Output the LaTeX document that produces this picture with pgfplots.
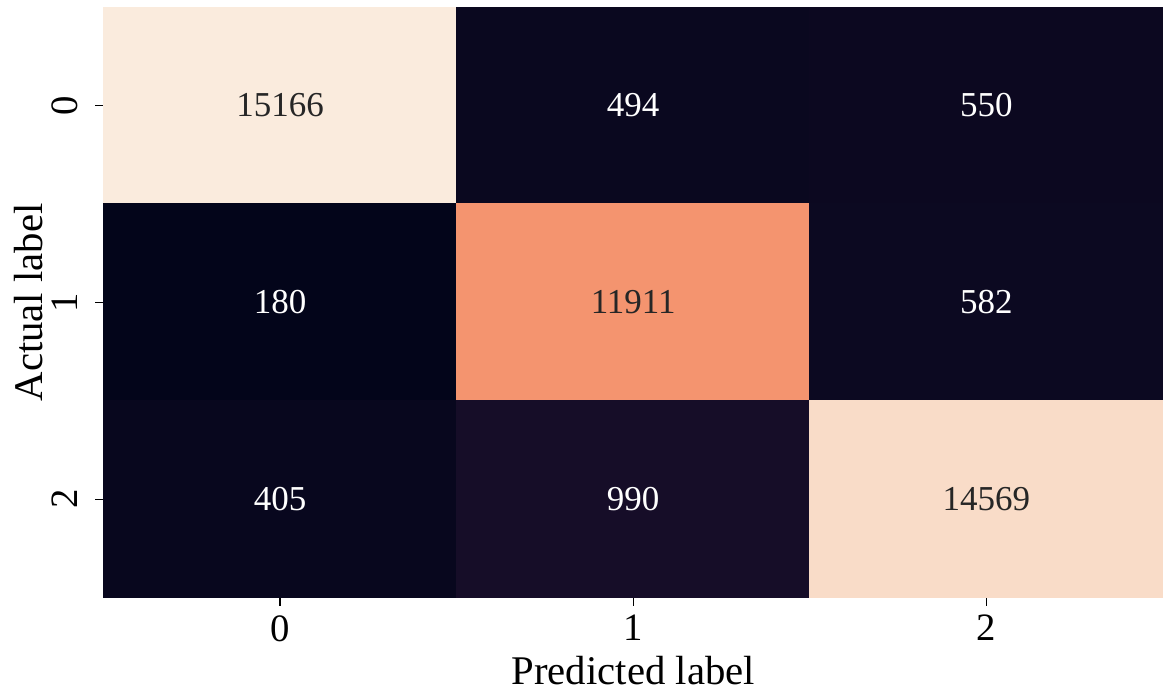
\documentclass[border=0pt]{standalone}
\usepackage{pgfplots}
\pgfplotsset{compat=1.18}
\usepackage{pgfplotstable}
\usepackage{fontspec}
\setmainfont{Liberation Serif}
\usetikzlibrary{calc}

% confusion matrix: x = predicted, y = actual, c = count
\pgfplotstableread{
x y c
0 0 15166
1 0 494
2 0 550
0 1 180
1 1 11911
2 1 582
0 2 405
1 2 990
2 2 14569
}\cm

% annotations on light cells (dark text) and dark cells (white text)
\pgfplotstableread{
x y c
0 0 15166
1 1 11911
2 2 14569
}\cmlight
\pgfplotstableread{
x y c
1 0 494
2 0 550
0 1 180
2 1 582
0 2 405
1 2 990
}\cmdark

\definecolor{annotdark}{RGB}{38,38,38}

\begin{document}
\begin{tikzpicture}[x=1pt,y=1pt]
\begin{axis}[
  name=ax,
  scale only axis,
  width=424pt, height=236.4pt,
  xmin=-0.5, xmax=2.5, ymin=-0.5, ymax=2.5,
  y dir=reverse,
  xtick={0,1,2}, ytick={0,1,2},
  xticklabels={0,1,2}, yticklabels={0,1,2},
  xtick pos=bottom, ytick pos=left,
  tick align=outside,
  major tick length=3.2pt,
  tick style={black, line width=0.5pt},
  axis line style={draw=none},
  /pgf/number format/assume math mode=true,
  ticklabel style={font=\fontsize{15.5}{19}\selectfont},
  xticklabel style={anchor=north, inner sep=0pt, yshift=-3.6pt},
  % rotated labels: yshift moves them to the left
  yticklabel style={rotate=90, anchor=south, inner sep=0pt, yshift=6.8pt},
  label style={font=\fontsize{16.3}{19}\selectfont},
  xlabel={Predicted label},
  ylabel={Actual label},
  xlabel style={at={(axis description cs:0.5,0)}, anchor=base, yshift=-34.8pt, inner sep=0pt},
  ylabel style={at={(axis description cs:0,0.5)}, anchor=base, inner sep=0pt, yshift=24.2pt},
  colormap={rocket}{
    rgb255(0)=(3,5,26);
    rgb255(1)=(53,25,62);
    rgb255(2)=(112,31,87);
    rgb255(3)=(173,23,89);
    rgb255(4)=(225,51,66);
    rgb255(5)=(243,118,81);
    rgb255(6)=(246,180,143);
    rgb255(7)=(250,235,221)},
  point meta min=180, point meta max=15166,
  clip=false,
]
\addplot[matrix plot*, mesh/cols=3, point meta=explicit, shader=flat corner]
  table[x=x, y=y, meta=c] {\cm};
\addplot[only marks, mark=none, nodes near coords, point meta=explicit symbolic,
  nodes near coords align=center,
  nodes near coords style={text=annotdark, font=\fontsize{14}{16}\selectfont, anchor=center}]
  table[x=x, y=y, meta=c] {\cmlight};
\addplot[only marks, mark=none, nodes near coords, point meta=explicit symbolic,
  nodes near coords align=center,
  nodes near coords style={text=white, font=\fontsize{14}{16}\selectfont, anchor=center}]
  table[x=x, y=y, meta=c] {\cmdark};
\end{axis}
\pgfresetboundingbox
\path ($(ax.south west)+(-41.4pt,-39.2pt)$) rectangle ($(ax.north east)+(0pt,2.8pt)$);
\end{tikzpicture}
\end{document}
